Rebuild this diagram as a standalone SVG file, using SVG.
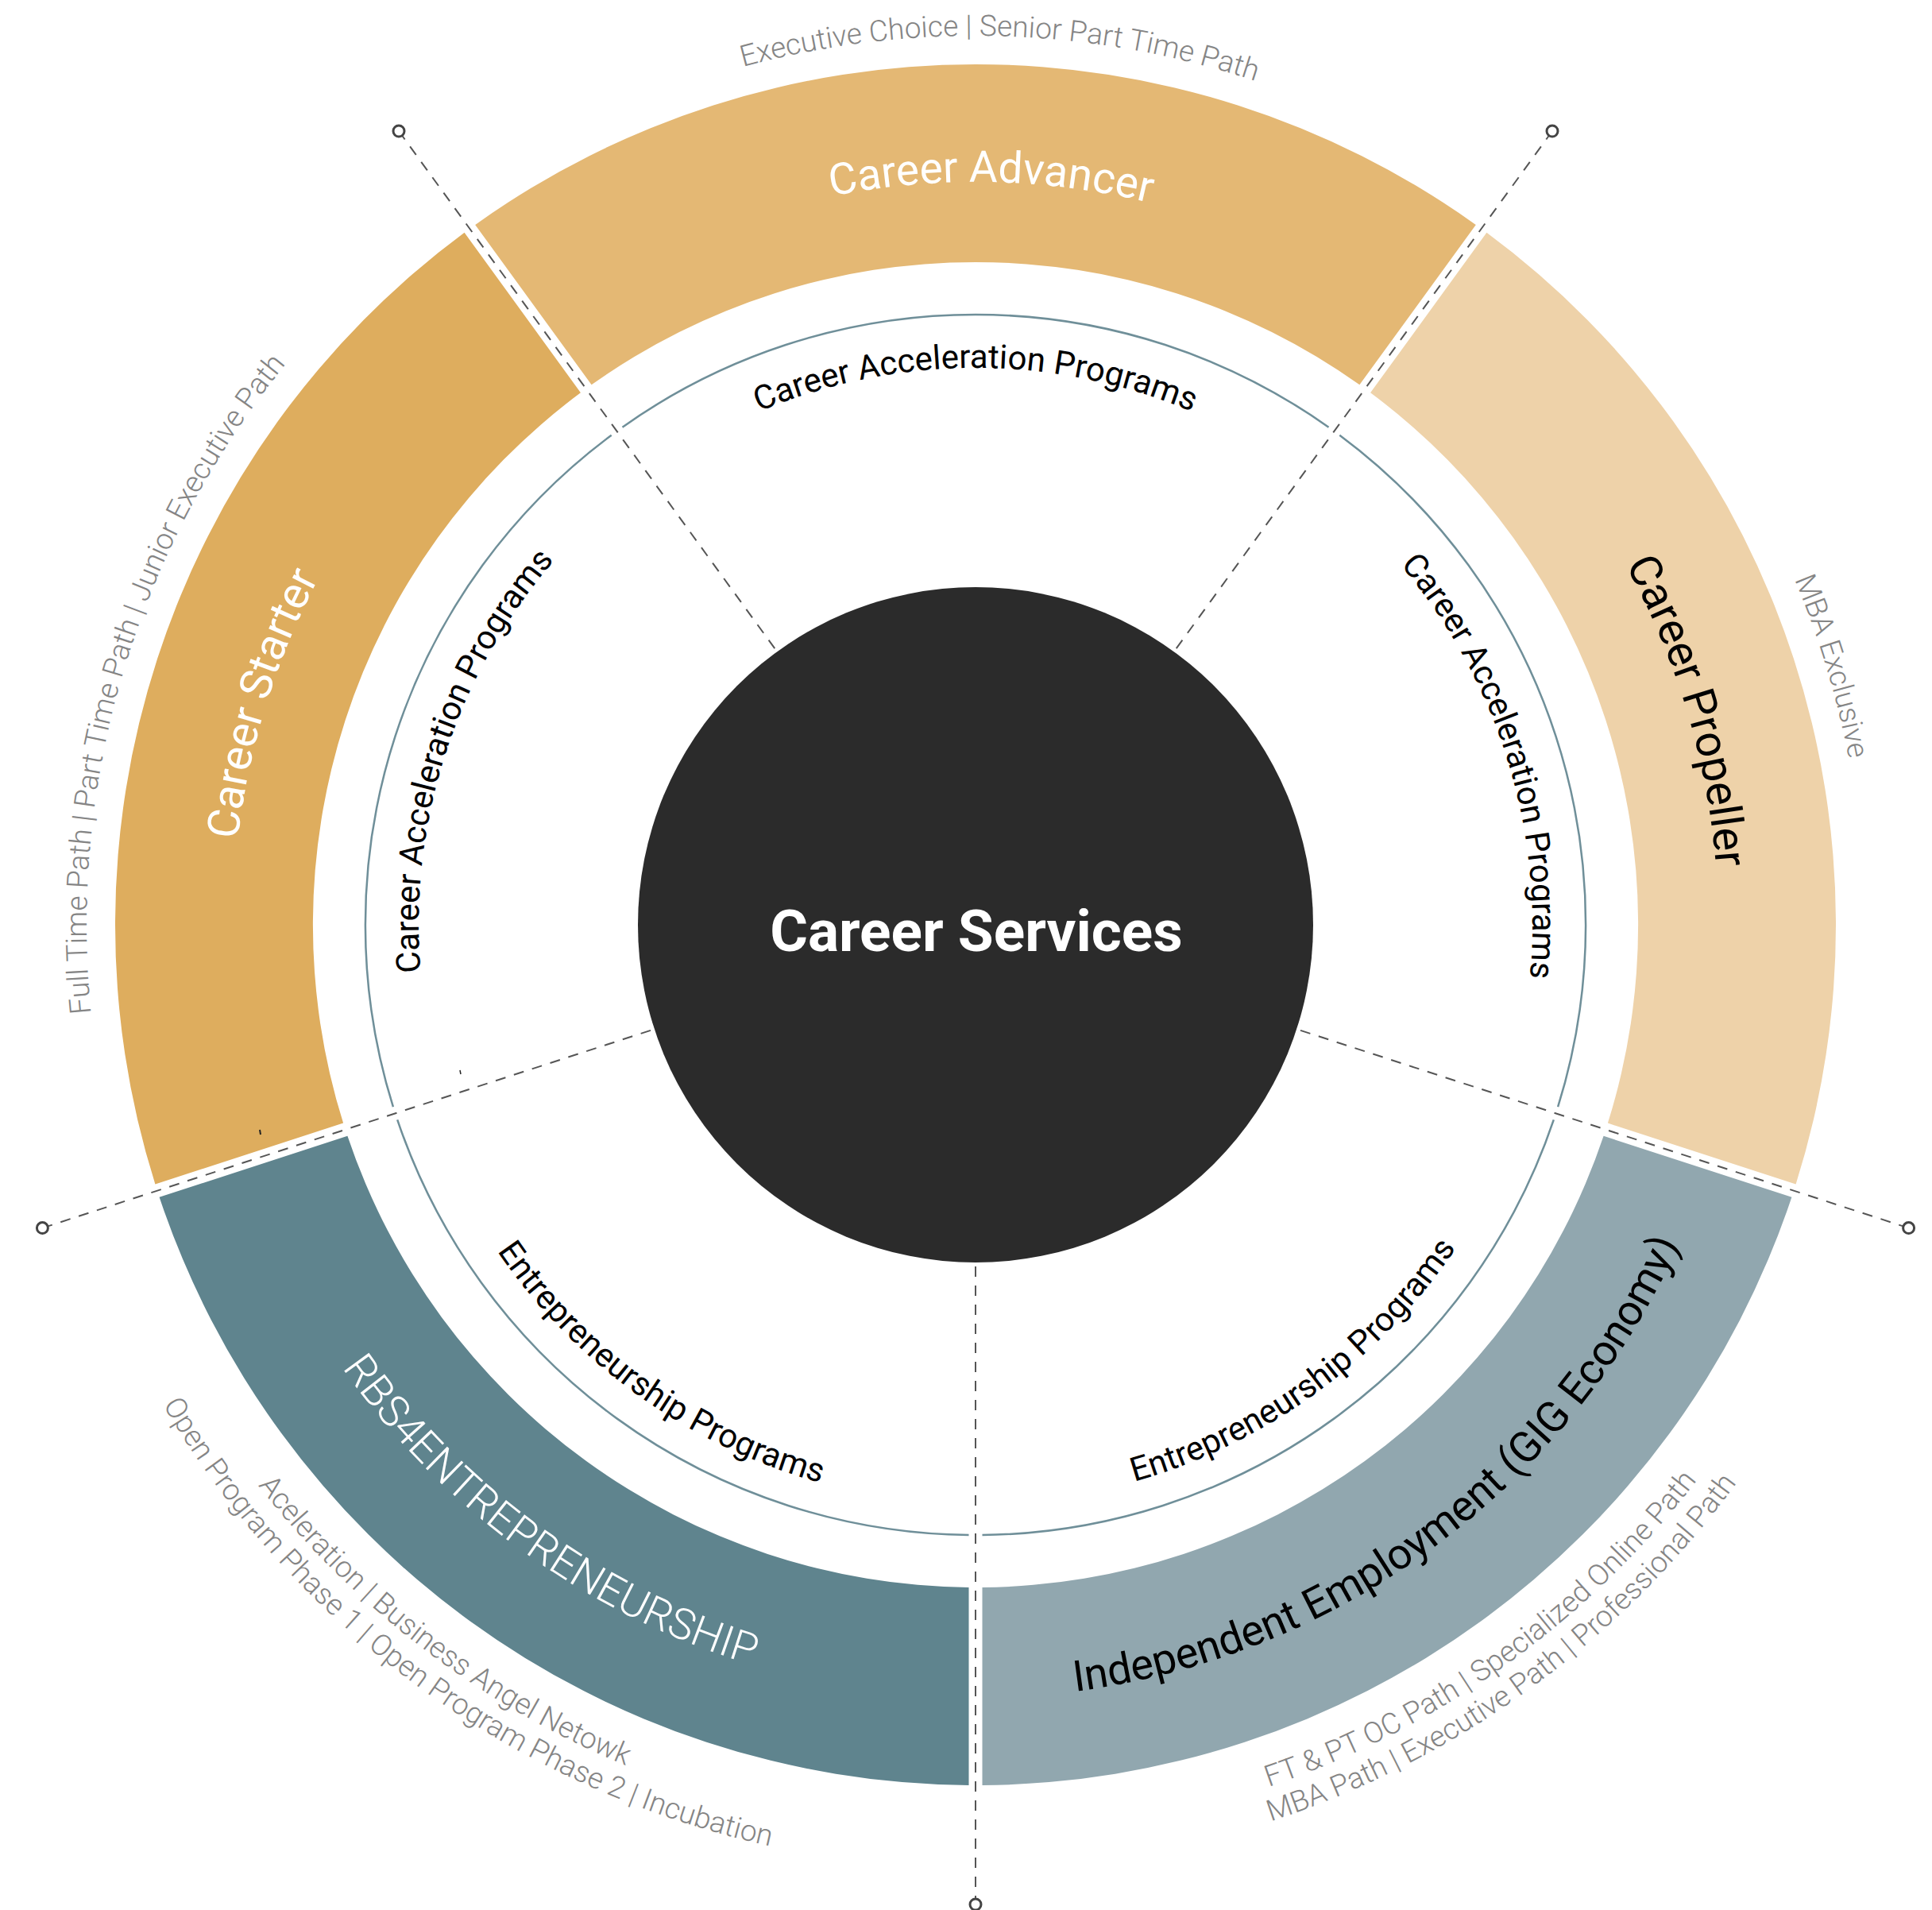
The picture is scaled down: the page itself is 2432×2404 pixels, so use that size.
<svg xmlns="http://www.w3.org/2000/svg" xmlns:xlink="http://www.w3.org/1999/xlink" width="2432" height="2404" viewBox="0 0 2432 2404">
<style>
.band-lbl{font-family:Roboto,"Liberation Sans",sans-serif;font-size:56px}
.light{font-weight:300}
.reg{font-weight:400}
.grey{font-family:Roboto,"Liberation Sans",sans-serif;font-size:37px;font-weight:300;fill:#858585}
.inner{font-family:Roboto,"Liberation Sans",sans-serif;font-size:42px;font-weight:400;fill:#000}
.ring{fill:none;stroke:#6F8F99;stroke-width:2.5}
.spoke{stroke:#555;stroke-width:2;stroke-dasharray:13 11;fill:none}
.end{fill:#fff;stroke:#444;stroke-width:3}
</style>
<defs>
<path id="cw935" d="M349.4,844.2 A935,935 0 0 1 2106.6,844.2"/>
<path id="cw1119" d="M176.5,781.3 A1119,1119 0 0 1 2279.5,781.3"/>
<path id="cw701" d="M569.3,924.2 A701,701 0 0 1 1886.7,924.2"/>
<path id="ccw973" d="M313.7,1496.8 A973,973 0 0 0 2142.3,1496.8"/>
<path id="ccw1146" d="M151.1,1556.0 A1146,1146 0 0 0 2304.9,1556.0"/>
<path id="ccw1188" d="M111.6,1570.3 A1188,1188 0 0 0 2344.4,1570.3"/>
<path id="ccw729" d="M543.0,1413.3 A729,729 0 0 0 1913.0,1413.3"/>
</defs>
<rect width="2432" height="2404" fill="#fff"/>

<g id="inner-ring">
<path class="ring" d="M783.5,537.7 A768,768 0 0 1 1672.5,537.7"/>
<path class="ring" d="M1686.3,547.7 A768,768 0 0 1 1961.1,1393.2"/>
<path class="ring" d="M1955.8,1409.4 A768,768 0 0 1 1236.5,1932"/>
<path class="ring" d="M1219.5,1932 A768,768 0 0 1 500.2,1409.4"/>
<path class="ring" d="M494.9,1393.2 A768,768 0 0 1 769.7,547.7"/>
<text class="inner"><textPath xlink:href="#cw701" href="#cw701" startOffset="50%" text-anchor="middle">Career Acceleration Programs</textPath></text>
<text class="inner" transform="rotate(72.6 1228 1164)"><textPath xlink:href="#cw701" href="#cw701" startOffset="50%" text-anchor="middle">Career Acceleration Programs</textPath></text>
<text class="inner" transform="rotate(-72 1228 1164)"><textPath xlink:href="#cw701" href="#cw701" startOffset="50%" text-anchor="middle">Career Acceleration Programs</textPath></text>
<text class="inner" transform="rotate(35.6 1228 1164)"><textPath xlink:href="#ccw729" href="#ccw729" startOffset="50%" text-anchor="middle">Entrepreneurship Programs</textPath></text>
<text class="inner" transform="rotate(-36 1228 1164)"><textPath xlink:href="#ccw729" href="#ccw729" startOffset="50%" text-anchor="middle">Entrepreneurship Programs</textPath></text>
</g>

<g id="node-career-advancer">
<path fill="#E4B874" d="M598.2,282.9 A1083,1083 0 0 1 1857.8,282.9 L1711.4,484.3 A834,834 0 0 0 744.6,484.3 Z"/>
<text class="band-lbl reg" fill="#fff" style="font-size:55px" transform="rotate(1.2 1228 1164)"><textPath xlink:href="#cw935" href="#cw935" startOffset="50%" text-anchor="middle">Career Advancer</textPath></text>
<text class="grey" transform="rotate(1.6 1228 1164)"><textPath xlink:href="#cw1119" href="#cw1119" startOffset="50%" text-anchor="middle">Executive Choice | Senior Part Time Path</textPath></text>
</g>

<g id="node-career-propeller">
<path fill="#EED2A9" d="M1871.4,292.8 A1083,1083 0 0 1 2260.6,1490.5 L2023.9,1413.6 A834,834 0 0 0 1725.1,494.3 Z"/>
<text class="band-lbl reg" fill="#000" transform="rotate(73.3 1228 1164)"><textPath xlink:href="#cw935" href="#cw935" startOffset="50%" text-anchor="middle">Career Propeller</textPath></text>
<text class="grey" transform="rotate(73.2 1228 1164)"><textPath xlink:href="#cw1119" href="#cw1119" startOffset="50%" text-anchor="middle">MBA Exclusive</textPath></text>
</g>

<g id="node-independent-employment">
<path fill="#91A7AF" d="M2255.4,1506.8 A1083,1083 0 0 1 1236.5,2247 L1236.5,1998 A834,834 0 0 0 2018.6,1429.8 Z"/>
<text class="band-lbl reg" fill="#000" style="font-size:54px" transform="rotate(-36.5 1228 1164)"><textPath xlink:href="#ccw973" href="#ccw973" startOffset="50%" text-anchor="middle">Independent Employment (GIG Economy)</textPath></text>
<text class="grey" transform="rotate(-35.6 1228 1164)"><textPath xlink:href="#ccw1146" href="#ccw1146" startOffset="50%" text-anchor="middle">FT &amp; PT OC Path | Specialized Online Path</textPath></text>
<text class="grey" transform="rotate(-36 1228 1164)"><textPath xlink:href="#ccw1188" href="#ccw1188" startOffset="50%" text-anchor="middle">MBA Path | Executive Path | Professional Path</textPath></text>
</g>

<g id="node-rbs4entrepreneurship">
<path fill="#5F848E" d="M1219.5,2247 A1083,1083 0 0 1 200.6,1506.8 L437.4,1429.8 A834,834 0 0 0 1219.5,1998 Z"/>
<text class="band-lbl light" fill="#fff" style="font-size:54px" transform="rotate(35.9 1228 1164)"><textPath xlink:href="#ccw973" href="#ccw973" startOffset="50%" text-anchor="middle">RBS4ENTREPRENEURSHIP</textPath></text>
<text class="grey" transform="rotate(37.3 1228 1164)"><textPath xlink:href="#ccw1146" href="#ccw1146" startOffset="50%" text-anchor="middle">Aceleration | Business Angel Netowk</textPath></text>
<text class="grey" transform="rotate(36 1228 1164)"><textPath xlink:href="#ccw1188" href="#ccw1188" startOffset="50%" text-anchor="middle">Open Program Phase 1 | Open Program Phase 2 | Incubation</textPath></text>
</g>

<g id="node-career-starter">
<path fill="#DEAD5E" d="M195.4,1490.5 A1083,1083 0 0 1 584.6,292.8 L730.9,494.3 A834,834 0 0 0 432.1,1413.6 Z"/>
<text class="band-lbl reg" fill="#fff" transform="rotate(-72.8 1228 1164)"><textPath xlink:href="#cw935" href="#cw935" startOffset="50%" text-anchor="middle">Career Starter</textPath></text>
<text class="grey" transform="rotate(-73.3 1228 1164)"><textPath xlink:href="#cw1119" href="#cw1119" startOffset="50%" text-anchor="middle">Full Time Path | Part Time Path | Junior Executive Path</textPath></text>
<line x1="327" y1="1422" x2="328" y2="1428" stroke="#222" stroke-width="2"/>
<line x1="579" y1="1347" x2="580" y2="1352" stroke="#222" stroke-width="1.5"/>
</g>

<g id="connectors">
<line class="spoke" x1="1954" y1="165" x2="1228" y2="1164"/>
<line class="spoke" x1="2402.6" y1="1545.6" x2="1228" y2="1164"/>
<line class="spoke" x1="1228" y1="2399" x2="1228" y2="1164"/>
<line class="spoke" x1="53.4" y1="1545.6" x2="1228" y2="1164"/>
<line class="spoke" x1="502" y1="165" x2="1228" y2="1164"/>
<circle class="end" cx="1954" cy="165" r="7"/>
<circle class="end" cx="2402.6" cy="1545.6" r="7"/>
<circle class="end" cx="1228" cy="2397" r="7"/>
<circle class="end" cx="53.4" cy="1545.6" r="7"/>
<circle class="end" cx="502" cy="165" r="7"/>
</g>

<g id="node-career-services">
<circle cx="1228" cy="1164" r="425" fill="#2B2B2B"/>
<text x="1229" y="1197" text-anchor="middle" font-family="Roboto,'Liberation Sans',sans-serif" font-weight="700" font-size="73" fill="#fff">Career Services</text>
</g>
</svg>
